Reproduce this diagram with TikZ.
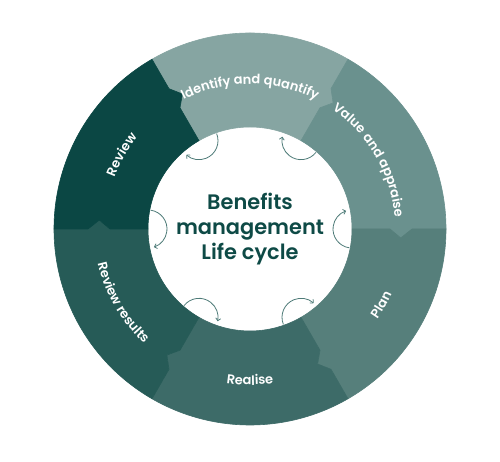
\documentclass[tikz,border=0pt]{standalone}
\usepackage{fontspec}
\setmainfont{Poppins}
\newfontfamily\popmed{Poppins Medium}
\newfontfamily\popsemi{Poppins SemiBold}
\usetikzlibrary{decorations.text,arrows.meta}
\definecolor{cIdent}{HTML}{86A5A2}
\definecolor{cValue}{HTML}{6A918E}
\definecolor{cPlan}{HTML}{567F7B}
\definecolor{cReal}{HTML}{3D6B68}
\definecolor{cRevRes}{HTML}{265B57}
\definecolor{cReview}{HTML}{0B4744}
\definecolor{cTitle}{HTML}{0E4A46}
\definecolor{cArrow}{HTML}{4E7B78}
\newcommand\lblfont{\popsemi\fontsize{13}{15}\selectfont}
% ring segment: #1 = counter-clockwise boundary angle, #2 = colour
\newcommand\ringseg[2]{%
  \filldraw[fill=#2,draw=#2,line width=0.6bp,line join=round]
    (#1:196bp) arc[start angle=#1, end angle={#1-60}, radius=196bp]
    -- ({#1-60}:162bp) -- ({#1-63.4}:151bp) -- ({#1-60}:140bp) -- ({#1-60}:102bp)
    arc[start angle={#1-60}, end angle=#1, radius=102bp]
    -- (#1:140bp) -- ({#1-3.4}:151bp) -- (#1:162bp) -- cycle;}
\tikzset{
  cyclearrow/.style={draw=cArrow, line width=0.8bp, -{Straight Barb[length=2.5bp,width=5bp]}},
  cwlabel/.style={decorate, decoration={text along path, text align=center, text color=white, text={|\lblfont|#1}}},
}
\begin{document}
\begin{tikzpicture}[x=1bp,y=1bp]
\useasboundingbox[fill=white] (0,0) rectangle (500,462);
\begin{scope}[shift={(250,233)}]
  \ringseg{120}{cIdent}
  \ringseg{60}{cValue}
  \ringseg{0}{cPlan}
  \ringseg{-60}{cReal}
  \ringseg{-120}{cRevRes}
  \ringseg{180}{cReview}
  % labels (top: clockwise, bottom: counter-clockwise)
  \path[cwlabel={Identify and quantify}] (135:145bp) arc[start angle=135, end angle=45, radius=145bp];
  \path[cwlabel={Value and appraise}] (75:145bp) arc[start angle=75, end angle=-15, radius=145bp];
  \path[cwlabel={Review}] (195:145bp) arc[start angle=195, end angle=105, radius=145bp];
  \path[cwlabel={Plan}] (-75:156bp) arc[start angle=-75, end angle=15, radius=156bp];
  \path[cwlabel={Realise}] (-135:156bp) arc[start angle=-135, end angle=-45, radius=156bp];
  \path[cwlabel={Review results}] (165:156bp) arc[start angle=165, end angle=255, radius=156bp];
  % cycle arrows
  \foreach \t in {0,60,120,180,240,300}
    \draw[cyclearrow] (\t:102bp) ++({\t+262}:19bp) arc[start angle={\t+262}, end angle={\t+108}, radius=19bp];
  % title
  \node[align=center, text=cTitle, font=\popsemi\fontsize{21}{25.5}\selectfont] (title) at (0,0) {Benefits\\management\\Life cycle};
\end{scope}
\end{tikzpicture}
\end{document}
